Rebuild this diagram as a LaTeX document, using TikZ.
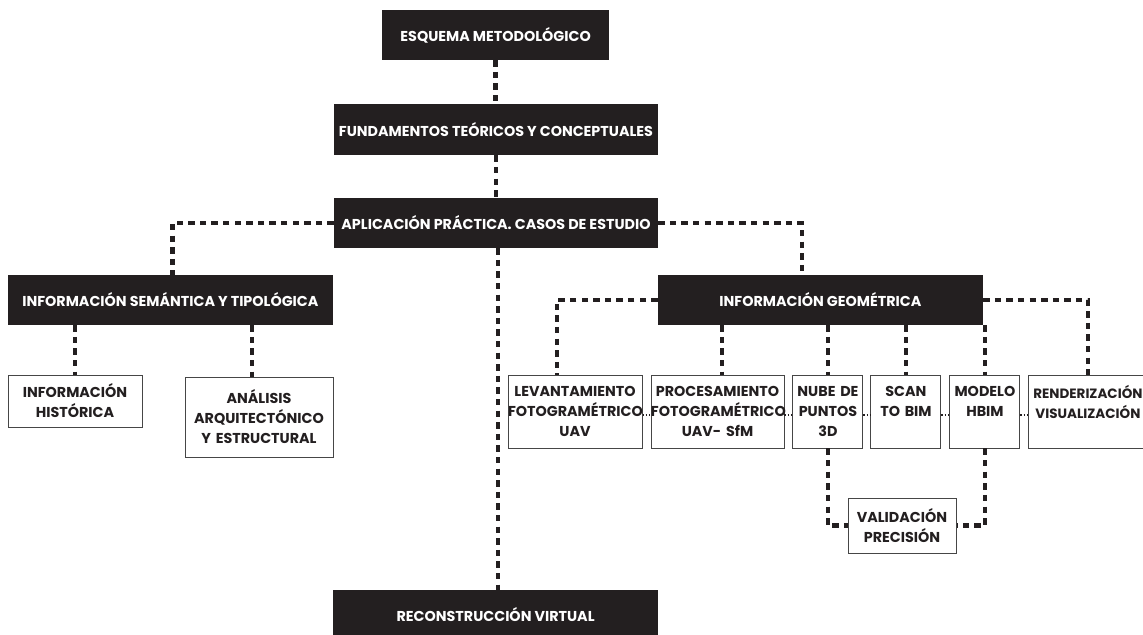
\documentclass[tikz,border=0pt]{standalone}
\usepackage{fontspec}
\setmainfont{Poppins}
\usepackage{xcolor}
\usepackage{tikz}
\usetikzlibrary{positioning,calc}
\definecolor{casinegro}{RGB}{35,31,32}
\definecolor{bordegris}{RGB}{70,70,70}

\begin{document}
\begin{tikzpicture}[
  font=\fontsize{10.2}{14.2}\selectfont\bfseries,
  every node/.style={align=center},
  negbox/.style={rectangle, fill=casinegro, text=white,
    minimum height=1.25cm, inner sep=0pt},
  blabox/.style={rectangle, draw=bordegris, fill=white, line width=0.7pt,
    inner sep=0pt, text=casinegro},
  lien/.style={draw=casinegro, line width=0.11cm,
    dash pattern=on 0.16cm off 0.13cm},
  punt/.style={draw=casinegro, line width=0.05cm,
    dash pattern=on 0.04cm off 0.04cm},
]
\useasboundingbox (0,0) rectangle (28.575,-15.875);
\clip (0,0) rectangle (28.575,-15.875);

% Main column
\node[negbox, minimum width=5.675cm] (esq) at (12.39,-0.875) {ESQUEMA METODOLÓGICO};
\node[negbox, minimum width=8.1cm, minimum height=1.275cm] (fund) at (12.4,-3.24)
  {FUNDAMENTOS TEÓRICOS Y CONCEPTUALES};
\node[negbox, minimum width=8.1cm] (apl) at (12.4,-5.575)
  {APLICACIÓN PRÁCTICA. CASOS DE ESTUDIO};
\node[negbox, minimum width=8.125cm] (rec) at (12.39,-15.375)
  {RECONSTRUCCIÓN VIRTUAL};

% Branches
\node[negbox, minimum width=8.125cm] (sem) at (4.26,-7.5)
  {INFORMACIÓN SEMÁNTICA Y TIPOLÓGICA};
\node[negbox, minimum width=8.125cm] (geo) at (20.51,-7.5)
  {INFORMACIÓN GEOMÉTRICA};

% Semantic information
\node[blabox, text width=3.35cm, minimum height=1.3cm] (hist) at (1.875,-10.025)
  {INFORMACIÓN\\HISTÓRICA};
\node[blabox, text width=3.7cm, minimum height=2.0cm] (ana) at (6.475,-10.425)
  {ANÁLISIS\\ARQUITECTÓNICO\\Y ESTRUCTURAL};

% Geometric information
\node[blabox, text width=3.35cm, minimum height=1.825cm] (lev) at (14.375,-10.2875)
  {LEVANTAMIENTO\\FOTOGRAMÉTRICO\\UAV};
\node[blabox, text width=3.325cm, minimum height=1.825cm, right=0.2cm of lev] (proc)
  {PROCESAMIENTO\\FOTOGRAMÉTRICO\\UAV- SfM};
\node[blabox, text width=1.75cm, minimum height=1.825cm, right=0.2cm of proc] (nube)
  {NUBE DE\\PUNTOS\\3D};
\node[blabox, text width=1.75cm, minimum height=1.825cm, right=0.175cm of nube] (scan)
  {SCAN\\TO BIM\\\mbox{}};
\node[blabox, text width=1.75cm, minimum height=1.825cm, right=0.2cm of scan] (modelo)
  {MODELO\\HBIM\\\mbox{}};
\node[blabox, text width=2.95cm, minimum height=1.825cm, right=0.2cm of modelo,
      font=\fontsize{9.6}{14.2}\selectfont\bfseries] (render)
  {RENDERIZACIÓN\\VISUALIZACIÓN\\\mbox{}};

% Validation
\node[blabox, text width=2.7cm, minimum height=1.375cm] (val) at (22.55,-13.1375)
  {VALIDACIÓN\\PRECISIÓN};

% Main connectors
\draw[lien] (esq.south) -- (esq.south |- fund.north);
\draw[lien] (fund.south) -- (fund.south |- apl.north);
\draw[lien] ([xshift=0.05cm]apl.south) -- ([xshift=0.05cm]apl.south |- rec.north);
\draw[lien] (apl.west) -| ([xshift=0.05cm]sem.north);
\draw[lien] (apl.east) -| ([xshift=-0.46cm]geo.north);

% Semantic connectors
\draw[lien] (sem.south -| hist.north) -- (hist.north);
\draw[lien] (sem.south -| ana.north) ++(-0.175,0) -- ([xshift=-0.175cm]ana.north);

% Geometric connectors
\draw[lien] (geo.west) -| ([xshift=-0.45cm]lev.north);
\draw[lien] ([xshift=0.11cm]geo.south -| proc.north) -- ([xshift=0.11cm]proc.north);
\draw[lien] (geo.south -| nube.north) -- (nube.north);
\draw[lien] (geo.south -| scan.north) -- (scan.north);
\draw[lien] (geo.south -| modelo.north) -- (modelo.north);
\draw[lien] (geo.east) -| (render.north);

% Row links
\draw[punt] ([yshift=-0.09cm]lev.east) -- ([yshift=-0.09cm]proc.west);
\draw[punt] ([yshift=-0.09cm]proc.east) -- ([yshift=-0.09cm]nube.west);
\draw[punt] ([yshift=-0.09cm]nube.east) -- ([yshift=-0.09cm]scan.west);
\draw[punt] ([yshift=-0.09cm]scan.east) -- ([yshift=-0.09cm]modelo.west);
\draw[punt] ([yshift=-0.09cm]modelo.east) -- ([yshift=-0.09cm]render.west);

% Validation connectors
\draw[lien] (nube.south) |- (val.west);
\draw[lien] (modelo.south) |- (val.east);
\end{tikzpicture}
\end{document}
